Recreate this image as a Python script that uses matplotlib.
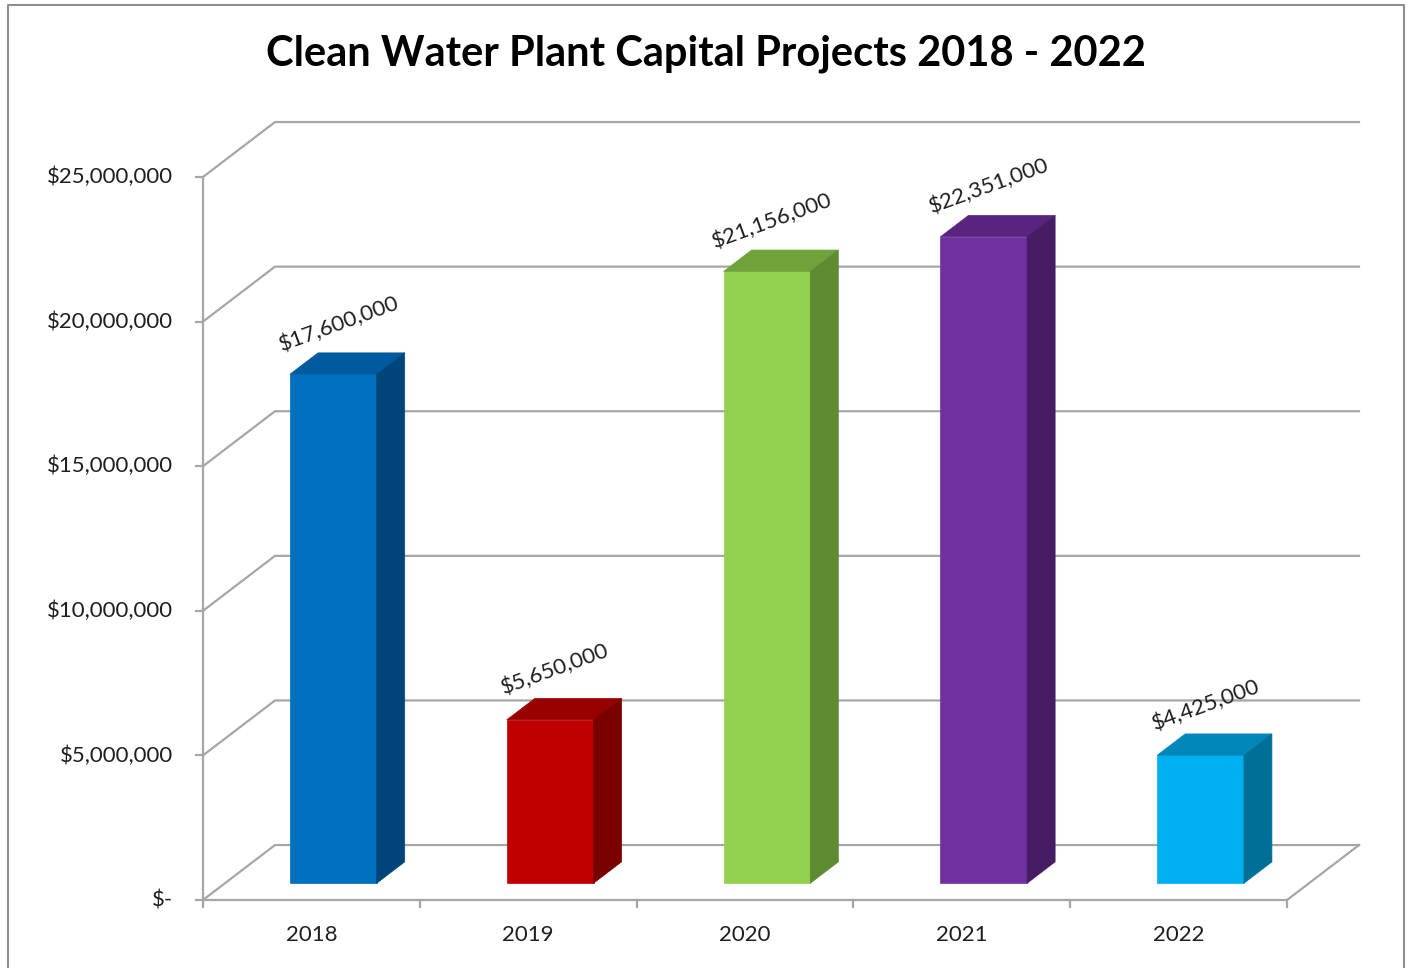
import matplotlib
matplotlib.use('Agg')
import matplotlib.pyplot as plt
from matplotlib.patches import Polygon
from matplotlib.lines import Line2D

# ---- data ----
years = ['2018', '2019', '2020', '2021', '2022']
values = [17600000, 5650000, 21156000, 22351000, 4425000]
value_labels = ['$17,600,000', '$5,650,000', '$21,156,000', '$22,351,000', '$4,425,000']
front_colors = ['#0070C0', '#C00000', '#92D050', '#7030A0', '#00B0F0']
top_colors = ['#005A9E', '#980000', '#70A23C', '#58247F', '#0087BA']
side_colors = ['#004579', '#780000', '#5E8A31', '#461C64', '#006F98']
y_ticks = [0, 5000000, 10000000, 15000000, 20000000, 25000000]
y_tick_labels = ['$-', '$5,000,000', '$10,000,000', '$15,000,000', '$20,000,000', '$25,000,000']
title = 'Clean Water Plant Capital Projects 2018 - 2022'

FONT = ['Lato', 'DejaVu Sans']
plt.rcParams['font.family'] = FONT

# oblique projection parameters (depth offsets in data units per full depth)
DX = 0.332
DY = 1.90e6
D0, D1 = 0.305, 0.694
HALF_W = 0.2
GRID = '#A6A6A6'
TXT = '#1E1E1E'
FS = 16


def proj(c, v, d):
    return (c + d * DX, v + d * DY)


fig = plt.figure(figsize=(14.1, 9.68), dpi=100)
ax = fig.add_axes([0, 0, 1, 1])
ax.set_xlim(-1.4363, 5.0673)
ax.set_ylim(-2.351e6, 31.12e6)
ax.axis('off')

n = len(years)
c_left, c_right = -0.5, n - 0.5

# left wall vertical line
xs, ys = zip(proj(c_left, 0, 0), proj(c_left, y_ticks[-1], 0))
ax.plot(xs, ys, color=GRID, lw=1.6, zorder=1, solid_capstyle='butt')

# gridlines: diagonal on left wall + horizontal on back wall
for v, lab in zip(y_ticks, y_tick_labels):
    pts = [proj(c_left, v, 0), proj(c_left, v, 1), proj(c_right, v, 1)]
    xs, ys = zip(*pts)
    ax.plot(xs, ys, color=GRID, lw=1.6, zorder=1)
    ax.plot([c_left - 0.033, c_left], [v, v], color=GRID, lw=1.6, zorder=1)
    ax.text(c_left - 0.139, v, lab, ha='right', va='center', fontsize=FS, color=TXT)

# floor front edge and right diagonal
pts = [proj(c_left, 0, 0), proj(c_right, 0, 0), proj(c_right, 0, 1)]
xs, ys = zip(*pts)
ax.plot(xs, ys, color=GRID, lw=1.6, zorder=1)

# category ticks
for k in range(n + 1):
    c = c_left + k
    ax.plot([c, c], [0, -0.24e6], color=GRID, lw=1.6, zorder=1)

# bars
for i, (v, fc, tc, sc) in enumerate(zip(values, front_colors, top_colors, side_colors)):
    x0, b0 = proj(i, 0, D0)
    ax.bar(x0, v, width=2 * HALF_W, bottom=b0, color=fc, edgecolor=fc, lw=0.5, zorder=3)
    top = [proj(i - HALF_W, v, D0), proj(i + HALF_W, v, D0),
           proj(i + HALF_W, v, D1), proj(i - HALF_W, v, D1)]
    ax.add_patch(Polygon(top, closed=True, facecolor=tc, edgecolor=tc, lw=0.5, zorder=3))
    side = [proj(i + HALF_W, 0, D0), proj(i + HALF_W, 0, D1),
            proj(i + HALF_W, v, D1), proj(i + HALF_W, v, D0)]
    ax.add_patch(Polygon(side, closed=True, facecolor=sc, edgecolor=sc, lw=0.5, zorder=3))
    lx, ly = proj(i, v, D0)
    ax.text(lx + 0.025, ly + 1.75e6, value_labels[i], ha='center', va='center',
            rotation=20, rotation_mode='anchor', fontsize=FS, color=TXT, zorder=4)
    ax.text(i, -1.21e6, years[i], ha='center', va='center', fontsize=FS, color=TXT)

# title
fig.text(706 / 1410, 1 - 54 / 968, title, ha='center', va='center', fontsize=30,
         fontweight='bold', color='black')

# outer border
bx0, bx1, by = 8 / 1410, 1404 / 1410, 1 - 5 / 968
fig.add_artist(Line2D([bx0, bx0, bx1, bx1], [0, by, by, 0], transform=fig.transFigure,
                      color='#8C8C8C', lw=1.5))

fig.savefig('out.png', dpi=100)
